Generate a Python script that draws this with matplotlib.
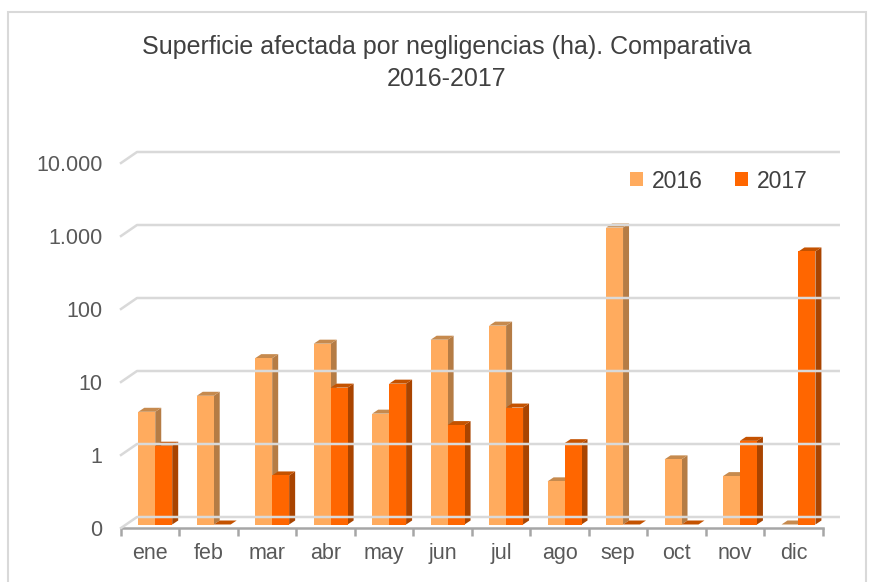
import matplotlib
matplotlib.use("Agg")
import matplotlib.pyplot as plt
import numpy as np
from matplotlib.patches import Polygon, Patch, Rectangle
from matplotlib.lines import Line2D
from matplotlib.transforms import IdentityTransform

plt.rcParams["font.family"] = ["Liberation Sans", "DejaVu Sans"]

meses = ["ene", "feb", "mar", "abr", "may", "jun", "jul", "ago", "sep", "oct", "nov", "dic"]
v2016 = [3.5, 5.8, 19, 30, 3.3, 34, 53, 0.39, 1170, 0.78, 0.46, 0]
v2017 = [1.2, 0, 0.47, 7.5, 8.5, 2.3, 4.0, 1.3, 0, 0, 1.4, 550]
yticks = [0.1, 1, 10, 100, 1000, 10000]
ylabels = ["0", "1", "10", "100", "1.000", "10.000"]

colores = {
    "2016": ("#FFAB5E", "#B57C45", "#C68A4E"),
    "2017": ("#FF6600", "#A94400", "#C45200"),
}

W, H = 871, 582
fig = plt.figure(figsize=(W / 100, H / 100), dpi=100)
ax = fig.add_axes([121 / W, (H - 528) / H, 701.7 / W, 365 / H])
ax.set_yscale("log")
ax.set_ylim(0.1, 10000)
ax.set_xlim(-0.5, 11.5)
ax.patch.set_alpha(0)

# frame of the chart
fig.patches.append(Rectangle((8 / W, -0.1), (866 - 8) / W, 1.1 - 12 / H,
                             transform=fig.transFigure, fill=False,
                             edgecolor="#D9D9D9", lw=1.5))

for s in ["top", "right", "left"]:
    ax.spines[s].set_visible(False)
ax.spines["bottom"].set_color("#A6A6A6")
ax.spines["bottom"].set_linewidth(1.8)

ax.set_yticks(yticks)
ax.set_yticklabels(ylabels)
ax.yaxis.set_minor_locator(matplotlib.ticker.NullLocator())
ax.tick_params(axis="y", length=0, pad=13.5, labelsize=15.5, labelcolor="#595959")
ax.set_xticks(range(12))
ax.set_xticklabels(meses)
ax.set_xticks(np.arange(-0.5, 12, 1), minor=True)
ax.tick_params(axis="x", which="major", length=0, pad=11, labelsize=15.5, labelcolor="#595959")
ax.tick_params(axis="x", which="minor", length=6, width=1.8, color="#A6A6A6", direction="out")

ident = IdentityTransform()

def px(x, v):
    return ax.transData.transform((x, max(v, 0.1)))

# back wall gridlines (depth offset)
WALL = np.array([16, 11])
for t in yticks:
    a = px(-0.5, t)
    b = px(11.5, t)
    xs = [a[0], a[0] + WALL[0], b[0] + WALL[0]]
    ys = [a[1], a[1] + WALL[1], b[1] + WALL[1]]
    fig.lines.append(Line2D(xs, ys, transform=ident, color="#D9D9D9", lw=1.8, zorder=1))

# 3d bars
D0 = np.array([5, 3.5])
D1 = np.array([11, 7.5])
w = 0.29

def bar3d(x0, x1, v, col):
    front, side, top = col
    bl = px(x0, 0.1) + D0
    br = px(x1, 0.1) + D0
    tl = px(x0, v) + D0
    tr = px(x1, v) + D0
    d = D1 - D0
    if v > 0.1:
        ax.add_patch(Polygon([br, tr, tr + d, br + d], closed=True, transform=ident,
                             facecolor=side, edgecolor="none", zorder=3))
    ax.add_patch(Polygon([tl, tr, tr + d, tl + d], closed=True, transform=ident,
                         facecolor=top, edgecolor="none", zorder=3))
    if v > 0.1:
        ax.add_patch(Polygon([bl, br, tr, tl], closed=True, transform=ident,
                             facecolor=front, edgecolor="none", zorder=3))

for i in range(len(meses)):
    bar3d(i - w, i, v2016[i], colores["2016"])
    bar3d(i, i + w, v2017[i], colores["2017"])

fig.text(447 / W, 1 - 63 / H, "Superficie afectada por negligencias (ha). Comparativa\n2016-2017",
         ha="center", va="center", fontsize=18, color="#404040", linespacing=1.4)

handles = [Patch(facecolor=colores["2016"][0], label="2016"),
           Patch(facecolor=colores["2017"][0], label="2017")]
leg = fig.legend(handles=handles, ncol=2, frameon=False, loc="center",
                 bbox_to_anchor=(719 / W, 1 - 181 / H), fontsize=16.5,
                 handlelength=0.55, handleheight=0.55, handletextpad=0.4,
                 columnspacing=1.4)
for t in leg.get_texts():
    t.set_color("#404040")

fig.savefig("out.png", dpi=100)
